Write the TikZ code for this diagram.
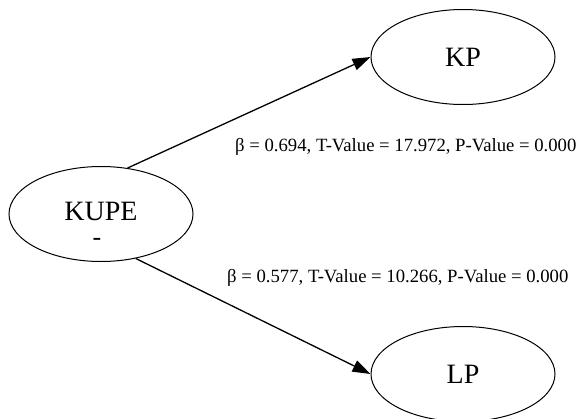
\documentclass[tikz,border=0pt]{standalone}
\usepackage{fontspec}
\setmainfont{Liberation Serif}
\usetikzlibrary{shapes.geometric,arrows.meta}
\begin{document}
\begin{tikzpicture}[x=1pt,y=1pt]
            \tikzstyle{every node}+=[inner sep=0pt]
            \tikzstyle{construct}=[draw=black,line width=1pt,ellipse,minimum width=184pt,minimum height=95pt,font=\fontsize{28}{30}\selectfont]
            \tikzstyle{path}=[line width=1.3pt,-{Triangle[length=18pt,width=12pt]}]
            \tikzstyle{coef}=[anchor=west,font=\fontsize{18.7}{20}\selectfont]
            \useasboundingbox (0,0) rectangle (584,-418);
            \node [construct,text depth=6pt] (kupe) at (101,-214) {KUPE};
            \node [font=\fontsize{26}{28}\selectfont] (kupedash) at (97,-242) {-};
            \node [construct] (kp) at (463,-57) {KP};
            \node [construct] (lp) at (463,-374) {LP};
            \draw [path] (kupe.60) -- (kp.west);
            \draw [path] (kupe.-52) -- (lp.west);
            \node [coef] (kpcoef) at (235,-147) {β = 0.694, T-Value = 17.972, P-Value = 0.000};
            \node [coef] (lpcoef) at (227,-278) {β = 0.577, T-Value = 10.266, P-Value = 0.000};
        \end{tikzpicture}
\end{document}
